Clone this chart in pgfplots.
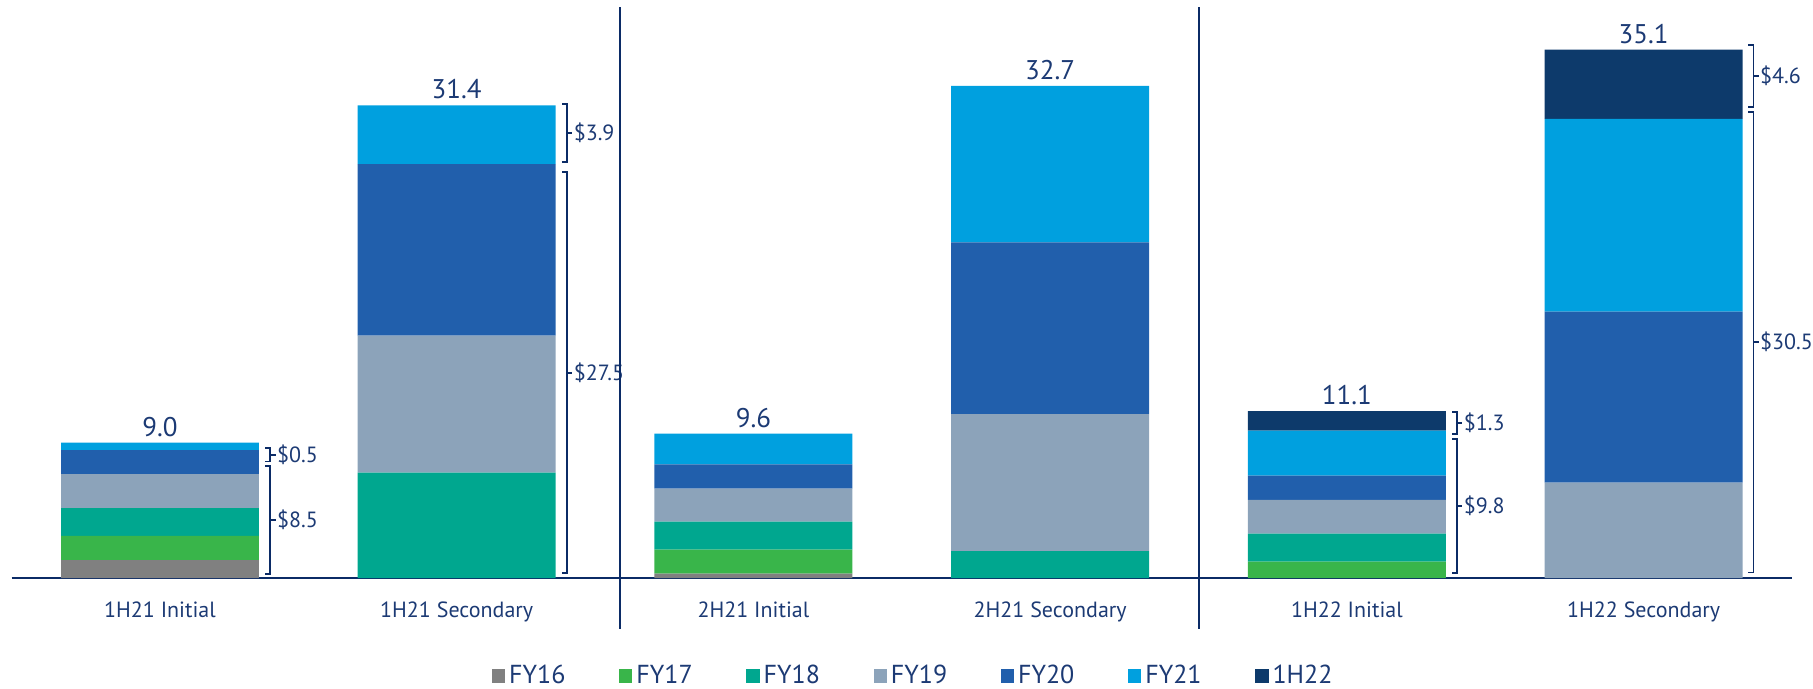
\documentclass[border=0pt]{standalone}
\usepackage{fontspec}
\setmainfont{PT Sans}
\usepackage{pgfplots}
\usepackage{pgfplotstable}
\pgfplotsset{compat=1.18}
\usetikzlibrary{calc}

\definecolor{cFYsixteen}{HTML}{808080}
\definecolor{cFYseventeen}{HTML}{39B54A}
\definecolor{cFYeighteen}{HTML}{00A78F}
\definecolor{cFYnineteen}{HTML}{8CA3BA}
\definecolor{cFYtwenty}{HTML}{215FAC}
\definecolor{cFYtwentyone}{HTML}{00A0DF}
\definecolor{cHtwentytwo}{HTML}{0D3A6B}
\definecolor{navy}{HTML}{0B2B66}
\definecolor{txt}{HTML}{1C3A74}

% segment values by reporting period (0..5 = bars left to right)
\pgfplotstableread{
x fy16 fy17 fy18 fy19 fy20 fy21 h22 tot
0 1.2 1.6 1.85 2.25 1.6 0.5 0 9.0
1 0 0 7.0 9.1 11.4 3.9 0 31.4
2 0.3 1.6 1.85 2.2 1.6 2.05 0 9.6
3 0 0 1.8 9.1 11.4 10.4 0 32.7
4 0 1.1 1.85 2.25 1.6 3.0 1.3 11.1
5 0 0 0 6.35 11.35 12.8 4.6 35.1
}\segdata

\pgfplotsset{frame/.style={
  scale only axis, width=890pt, height=286pt,
  xmin=-0.5, xmax=5.5, ymin=0, ymax=38, clip=false}}

% bracket: x, bottom, top, label
\newcommand{\brk}[4]{%
  \draw[navy, line width=0.9pt] ([xshift=-2.6pt]axis cs:#1,#2) -- (axis cs:#1,#2)
    -- (axis cs:#1,#3) -- ([xshift=-2.6pt]axis cs:#1,#3);
  \draw[navy, line width=0.9pt] ($(axis cs:#1,#2)!0.5!(axis cs:#1,#3)$)
    -- ([xshift=2.6pt]$(axis cs:#1,#2)!0.5!(axis cs:#1,#3)$)
    node[right, inner sep=0.3pt, text=txt, font=\fontsize{11}{13}\selectfont] {\$#4};
}

\begin{document}
\begin{tikzpicture}
\begin{axis}[
  frame, name=ax,
  ybar stacked, bar width=0.667,
  axis x line*=bottom, axis y line=none,
  x axis line style={draw=navy, line width=1.1pt},
  ymajorticks=false,
  xtick={0,...,5},
  xticklabels={1H21 Initial, 1H21 Secondary, 2H21 Initial, 2H21 Secondary, 1H22 Initial, 1H22 Secondary},
  major tick length=0pt,
  xticklabel style={font=\fontsize{11}{13}\selectfont, text=txt, anchor=base, yshift=-19.7pt},
  legend columns=-1,
  legend style={at={(0.507,-0.171)}, anchor=center, draw=none, fill=none,
    font=\fontsize{13}{15}\selectfont, text=txt},
  legend image code/.code={\draw[#1, draw=none] (0pt,-3.3pt) rectangle (6.6pt,3.3pt);},
]
\addplot[fill=cFYsixteen, draw=none] table[x=x, y=fy16] {\segdata};
\addlegendentry{\makebox[53pt][l]{FY16}}
\addplot[fill=cFYseventeen, draw=none] table[x=x, y=fy17] {\segdata};
\addlegendentry{\makebox[53pt][l]{FY17}}
\addplot[fill=cFYeighteen, draw=none] table[x=x, y=fy18] {\segdata};
\addlegendentry{\makebox[53pt][l]{FY18}}
\addplot[fill=cFYnineteen, draw=none] table[x=x, y=fy19] {\segdata};
\addlegendentry{\makebox[53pt][l]{FY19}}
\addplot[fill=cFYtwenty, draw=none] table[x=x, y=fy20] {\segdata};
\addlegendentry{\makebox[53pt][l]{FY20}}
\addplot[fill=cFYtwentyone, draw=none] table[x=x, y=fy21] {\segdata};
\addlegendentry{\makebox[53pt][l]{FY21}}
\addplot[fill=cHtwentytwo, draw=none] table[x=x, y=h22] {\segdata};
\addlegendentry{1H22}

% period separators
\draw[navy, line width=1pt] (axis cs:1.55,37.9) -- (axis cs:1.55,-3.4);
\draw[navy, line width=1pt] (axis cs:3.5,37.9) -- (axis cs:3.5,-3.4);

% brackets
\brk{0.372}{0.25}{7.45}{8.5}
\brk{0.372}{7.75}{8.65}{0.5}
\brk{1.372}{0.35}{26.95}{27.5}
\brk{1.372}{27.65}{31.5}{3.9}
\brk{4.372}{0.36}{9.26}{9.8}
\brk{4.372}{9.59}{11.01}{1.3}
\brk{5.37}{0.38}{30.95}{30.5}
\brk{5.37}{31.3}{35.4}{4.6}
\end{axis}
% totals above each stack, same frame
\begin{axis}[frame, hide axis]
\addplot[draw=none, mark=none,
  nodes near coords, point meta=explicit symbolic,
  nodes near coords style={font=\fontsize{13.5}{15}\selectfont, text=txt, anchor=base, yshift=3.2pt}]
  table[x=x, y=tot, meta=tot] {\segdata};
\end{axis}
\pgfresetboundingbox
\useasboundingbox ($(ax.south west)+(-5.8pt,-55.2pt)$) rectangle ($(ax.north east)+(10.5pt,3pt)$);
\end{tikzpicture}
\end{document}
